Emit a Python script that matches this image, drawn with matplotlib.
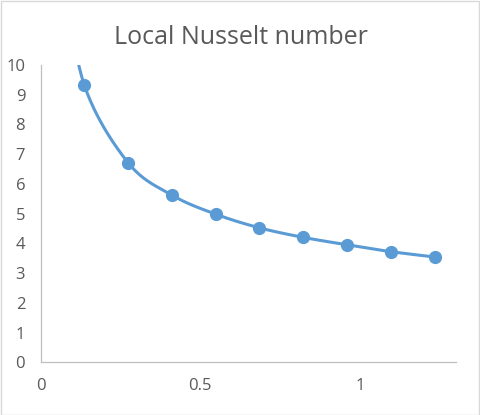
import numpy as np
import matplotlib
matplotlib.use('Agg')
import matplotlib.pyplot as plt
from matplotlib.patches import Rectangle

# distance along plate and local Nusselt number
# first point sits above the plot area and only shows as the clipped curve
x_pos = [0.0685, 0.137, 0.274, 0.411, 0.548, 0.685, 0.822, 0.959, 1.096, 1.233]
nu_local = [13.2, 9.32, 6.71, 5.62, 4.98, 4.52, 4.20, 3.95, 3.72, 3.54]

title = 'Local Nusselt number'
blue = '#5B9BD5'
grey_txt = '#595959'


def smooth_line(xs, ys, n=40):
    # excel style smoothed line: cubic bezier, control points from neighbours
    xs = np.asarray(xs, float)
    ys = np.asarray(ys, float)
    px = np.concatenate([[xs[0]], xs, [xs[-1]]])
    py = np.concatenate([[ys[0]], ys, [ys[-1]]])
    out_x, out_y = [], []
    t = np.linspace(0, 1, n)
    for i in range(1, len(px) - 2):
        p0 = np.array([px[i], py[i]])
        p1 = np.array([px[i + 1], py[i + 1]])
        c0 = p0 + (np.array([px[i + 1], py[i + 1]]) - np.array([px[i - 1], py[i - 1]])) / 6
        c1 = p1 - (np.array([px[i + 2], py[i + 2]]) - np.array([px[i], py[i]])) / 6
        b = ((1 - t) ** 3)[:, None] * p0 + (3 * (1 - t) ** 2 * t)[:, None] * c0 \
            + (3 * (1 - t) * t ** 2)[:, None] * c1 + (t ** 3)[:, None] * p1
        out_x.extend(b[:, 0])
        out_y.extend(b[:, 1])
    return out_x, out_y


plt.rcParams['font.family'] = ['Open Sans', 'DejaVu Sans']

fig = plt.figure(figsize=(4.81, 4.15), dpi=100)
ax = fig.add_axes([40.5 / 481, (415 - 362.3) / 415, (456 - 40.5) / 481, (362.3 - 64.8) / 415])

sx, sy = smooth_line(x_pos, nu_local)
ax.plot(sx, sy, color=blue, lw=2.2, solid_capstyle='round')
ax.plot(x_pos, nu_local, 'o', color=blue, ms=8.5, mec=blue)

ax.set_xlim(0, 1.3)
ax.set_ylim(0, 10)
ax.set_xticks([0, 0.5, 1])
ax.set_xticklabels(['0', '0.5', '1'])
ax.set_yticks(range(0, 11))

for s in ['top', 'right']:
    ax.spines[s].set_visible(False)
for s in ['left', 'bottom']:
    ax.spines[s].set_color('#bfbfbf')
    ax.spines[s].set_linewidth(0.9)
ax.tick_params(length=0, labelsize=12, labelcolor=grey_txt)
ax.tick_params(axis='y', pad=11)
ax.tick_params(axis='x', pad=11)

fig.text(0.5, 1 - 37 / 415, title, ha='center', va='center', fontsize=18, color=grey_txt)

# chart border
fig.patches.append(Rectangle((0.5 / 481, 0.5 / 415), 479 / 481, 413 / 415, transform=fig.transFigure,
                             fill=False, edgecolor='#d9d9d9', lw=1))

plt.savefig('out.png', dpi=100)
